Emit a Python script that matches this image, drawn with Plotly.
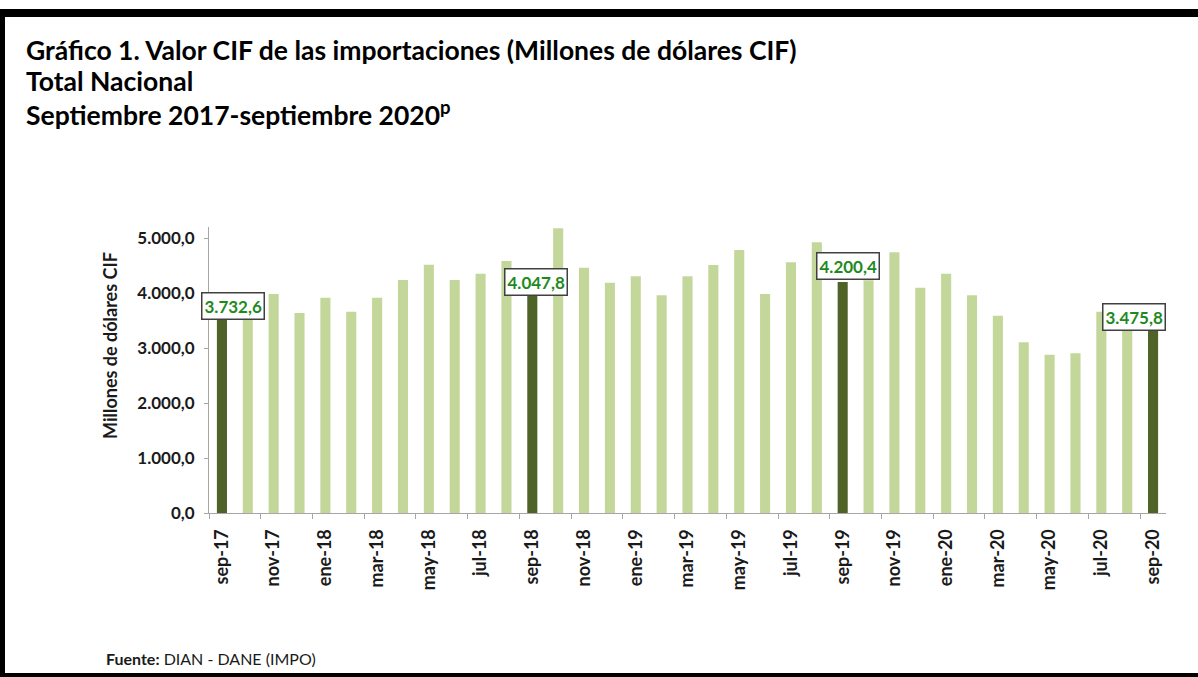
import plotly.graph_objects as go

# ---------------- data ----------------
months = ["sep-17", "oct-17", "nov-17", "dic-17",
          "ene-18", "feb-18", "mar-18", "abr-18", "may-18", "jun-18",
          "jul-18", "ago-18", "sep-18", "oct-18", "nov-18", "dic-18",
          "ene-19", "feb-19", "mar-19", "abr-19", "may-19", "jun-19",
          "jul-19", "ago-19", "sep-19", "oct-19", "nov-19", "dic-19",
          "ene-20", "feb-20", "mar-20", "abr-20", "may-20", "jun-20",
          "jul-20", "ago-20", "sep-20"]
values = [3732.6, 3850.0, 3982.0, 3636.0,
          3915.0, 3660.0, 3915.0, 4236.0, 4515.0, 4236.0,
          4352.0, 4582.0, 4047.8, 5176.0, 4461.0, 4188.0,
          4303.0, 3958.0, 4303.0, 4509.0, 4782.0, 3982.0,
          4558.0, 4921.0, 4200.4, 4230.0, 4739.0, 4097.0,
          4352.0, 3958.0, 3588.0, 3103.0, 2879.0, 2903.0,
          3661.0, 3400.0, 3475.8]
highlight = ["sep-17", "sep-18", "sep-19", "sep-20"]
y_ticks = [0, 1000, 2000, 3000, 4000, 5000]

# ---------------- styles ----------------
LIGHT = "#C4D79B"
DARK = "#4F6228"
AXIS = "#A6A6A6"
TXT = "#1A1A1A"
LABEL_GREEN = "#1E8A1E"
FONT = "Lato"

W, H = 1198, 677
ML, MR, MT, MB = 209, 32, 227, 164
PW, PH = W - ML - MR, H - MT - MB


def px_x(px):
    return (px - ML) / PW


def px_y(py):
    return (H - MB - py) / PH


def fmt(v):
    s = f"{v:,.1f}"
    return s.replace(",", "X").replace(".", ",").replace("X", ".")


idx = list(range(len(months)))
colors = [DARK if m in highlight else LIGHT for m in months]

fig = go.Figure()
fig.add_trace(go.Bar(
    x=idx, y=values, width=0.39,
    marker=dict(color=colors, line=dict(width=0)),
    hoverinfo="skip", showlegend=False,
))

# label offsets (pixels) for highlighted bars
label_shift = {"sep-17": (11, 2), "sep-18": (4, 8), "sep-19": (5, 16), "sep-20": (-19, 5)}
for m in highlight:
    i = months.index(m)
    dx, dy = label_shift[m]
    fig.add_annotation(
        x=i, y=values[i], xref="x", yref="y",
        text=f"<b>{fmt(values[i])}</b>", showarrow=False,
        font=dict(family=FONT, size=17, color=LABEL_GREEN),
        bgcolor="white", bordercolor="#404040", borderwidth=1.5, borderpad=2,
        xshift=dx, yshift=dy,
    )

# titles
titles = ["Gráfico 1. Valor CIF de las importaciones (Millones de dólares CIF)",
          "Total Nacional",
          "Septiembre 2017-septiembre 2020<sup>p</sup>"]
for t, py in zip(titles, [50, 81, 114]):
    fig.add_annotation(
        x=px_x(24), y=px_y(py), xref="paper", yref="paper",
        text=f"<b>{t}</b>", showarrow=False, xanchor="left", yanchor="middle",
        font=dict(family=FONT, size=26.5, color="black"),
    )

# y axis title
fig.add_annotation(
    x=px_x(97), y=px_y(346), xref="paper", yref="paper",
    text="<b>Millones de dólares CIF</b>", showarrow=False, textangle=-90,
    font=dict(family=FONT, size=18, color=TXT),
)

# source
fig.add_annotation(
    x=px_x(104), y=px_y(658), xref="paper", yref="paper",
    text="<b>Fuente:</b> DIAN - DANE (IMPO)", showarrow=False,
    xanchor="left", yanchor="middle",
    font=dict(family=FONT, size=16, color=TXT),
)

# frame
frame = [(0, 9, W, 17), (0, 9, 5, 677), (0, 673, W, 677)]
for x0, y0, x1, y1 in frame:
    fig.add_shape(type="rect", xref="paper", yref="paper",
                  x0=px_x(x0), x1=px_x(x1), y0=px_y(y1), y1=px_y(y0),
                  fillcolor="black", line=dict(width=0), layer="above")

fig.update_layout(
    width=W, height=H,
    margin=dict(l=ML, r=MR, t=MT, b=MB, pad=0),
    paper_bgcolor="white", plot_bgcolor="white",
    separators=",.",
    font=dict(family=FONT, color=TXT),
    xaxis=dict(
        range=[-0.5, len(months) - 0.5],
        tickmode="array",
        tickvals=idx[::2],
        ticktext=[f"<b>{m}</b>" for m in months[::2]],
        tickangle=-90,
        tickfont=dict(family=FONT, size=18, color=TXT),
        ticks="", ticklen=0,
        ticklabelstandoff=8,
        showline=True, linecolor=AXIS, linewidth=1,
        showgrid=False, zeroline=False,
        minor=dict(tickmode="array",
                   tickvals=[i - 0.5 for i in idx[::2]],
                   ticks="outside", ticklen=5, tickcolor=AXIS, tickwidth=1,
                   showgrid=False),
    ),
    yaxis=dict(
        range=[0, 5200],
        tickmode="array", tickvals=y_ticks,
        ticktext=[f"<b>{fmt(v)}</b>" for v in y_ticks],
        tickfont=dict(family=FONT, size=17, color=TXT),
        ticks="outside", ticklen=4, tickcolor=AXIS,
        ticklabelstandoff=6,
        showline=True, linecolor=AXIS, linewidth=1,
        showgrid=False, zeroline=False,
    ),
)

fig.write_html("out.html",
               config={"displayModeBar": False},
               post_script="document.body.style.margin='0px';"
                           "document.body.style.overflow='hidden';")
